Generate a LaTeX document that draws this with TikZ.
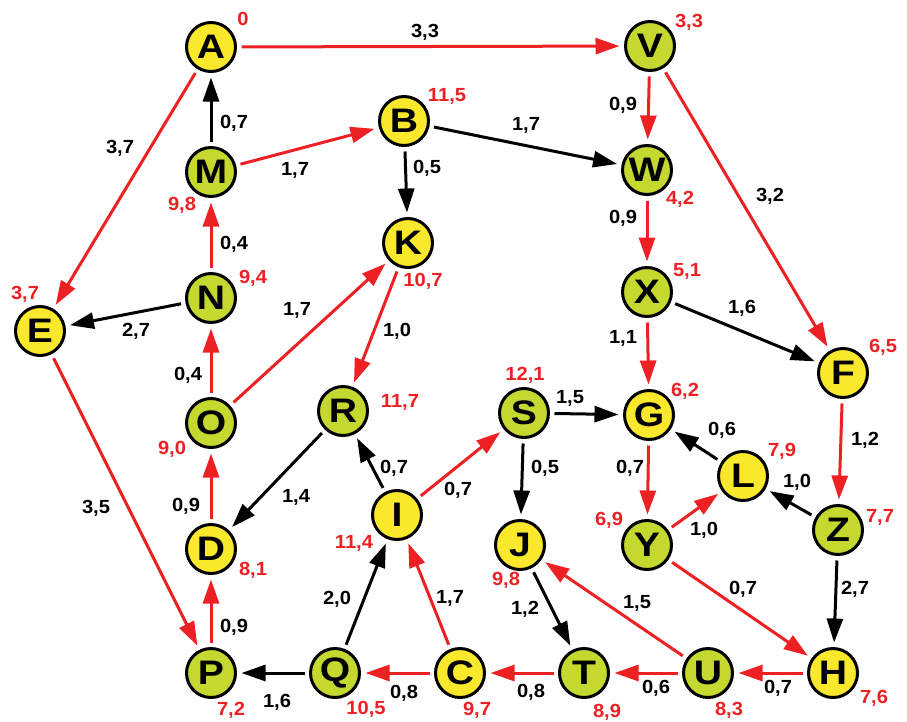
\documentclass[tikz,border=0pt]{standalone}
\usepackage{fontspec}
\setmainfont{Liberation Sans}
\newfontfamily\nodefont[FakeStretch=1.15]{Liberation Sans}
\newfontfamily\labfont[FakeStretch=1.06]{Liberation Sans}
\usetikzlibrary{arrows.meta}
\definecolor{ny}{RGB}{250,232,44}
\definecolor{ng}{RGB}{196,216,48}
\definecolor{er}{RGB}{237,32,36}
\tikzset{
  vtx/.style={circle, draw=black, line width=3pt, minimum size=49pt, inner sep=0pt, outer sep=6pt,
    font=\nodefont\fontsize{34}{34}\selectfont\bfseries},
  yn/.style={vtx, fill=ny},
  gn/.style={vtx, fill=ng},
  re/.style={draw=er, line width=3pt, -{Triangle[length=24pt,width=16pt]}},
  be/.style={draw=black, line width=3pt, -{Triangle[length=24pt,width=16pt]}},
  lab/.style={font=\labfont\fontsize{19}{19}\selectfont\bfseries, inner sep=0pt},
  dist/.style={lab, text=er}
}
\begin{document}
\begin{tikzpicture}[x=1pt,y=-1pt]
\useasboundingbox (0,0) rectangle (907,721);
% nodes
\node[yn] (A) at (211,47) {A};
\node[gn] (V) at (650,46) {V};
\node[yn] (B) at (404,121) {B};
\node[gn] (M) at (211,172) {M};
\node[gn] (W) at (647,170) {W};
\node[yn] (K) at (408,243) {K};
\node[gn] (X) at (647,292) {X};
\node[gn] (N) at (211,298) {N};
\node[yn] (E) at (40,331) {E};
\node[yn] (F) at (843,373) {F};
\node[gn] (O) at (211,423) {O};
\node[gn] (R) at (343,411) {R};
\node[gn] (S) at (524,413) {S};
\node[yn] (G) at (649,415) {G};
\node[yn] (L) at (743,476) {L};
\node[gn] (Z) at (838,530) {Z};
\node[gn] (Y) at (647,545) {Y};
\node[yn] (J) at (520,545) {J};
\node[yn] (I) at (397,515) {I};
\node[yn] (D) at (211,549) {D};
\node[gn] (P) at (211,673) {P};
\node[gn] (Q) at (335,673) {Q};
\node[yn] (C) at (460,673) {C};
\node[gn] (T) at (584,673) {T};
\node[gn] (U) at (708,673) {U};
\node[yn] (H) at (833,673) {H};
% edges
\draw[re] (A) -- (V);
\draw[re] (A) -- (E);
\draw[be] (M) -- (A);
\draw[re] (M) -- (B);
\draw[be] (B) -- (W);
\draw[be] (B) -- (K);
\draw[re] (V) -- (W);
\draw[re] (V) -- (F);
\draw[re] (W) -- (X);
\draw[be] (X) -- (F);
\draw[re] (X) -- (G);
\draw[re] (N) -- (M);
\draw[be] (N) -- (E);
\draw[re] (O) -- (N);
\draw[re] (O) -- (K);
\draw[re] (K) -- (R);
\draw[re] (E) -- (P);
\draw[re] (D) -- (O);
\draw[be] (R) -- (D);
\draw[be] (I) -- (R);
\draw[re] (I) -- (S);
\draw[be] (S) -- (G);
\draw[be] (S) -- (J);
\draw[re] (F) -- (Z);
\draw[be] (L) -- (G);
\draw[be] (Z) -- (L);
\draw[re] (G) -- (Y);
\draw[re] (Y) -- (L);
\draw[re] (Y) -- (H);
\draw[be] (Z) -- (H);
\draw[be] (J) -- (T);
\draw[re] (U) -- (J);
\draw[re] (H) -- (U);
\draw[re] (U) -- (T);
\draw[re] (T) -- (C);
\draw[re] (C) -- (Q);
\draw[be] (Q) -- (P);
\draw[re] (C) -- (I);
\draw[be] (Q) -- (I);
\draw[re] (P) -- (D);
% edge labels
\node[lab] (lAV) at (425,32) {3,3};
\node[lab] (lAE) at (120,148) {3,7};
\node[lab] (lMA) at (234,123) {0,7};
\node[lab] (lMB) at (295,170) {1,7};
\node[lab] (lBK) at (427,168) {0,5};
\node[lab] (lOK) at (297,310) {1,7};
\node[lab] (lKR) at (397,331) {1,0};
\node[lab] (lNE) at (136,331) {2,7};
\node[lab] (lNM) at (234,244) {0,4};
\node[lab] (lBW) at (526,125) {1,7};
\node[lab] (lVW) at (623,105) {0,9};
\node[lab] (lVF) at (770,196) {3,2};
\node[lab] (lWX) at (623,218) {0,9};
\node[lab] (lXF) at (742,308) {1,6};
\node[lab] (lXG) at (623,338) {1,1};
\node[lab] (lON) at (188,375) {0,4};
\node[lab] (lEP) at (96,508) {3,5};
\node[lab] (lDO) at (186,506) {0,9};
\node[lab] (lRD) at (296,497) {1,4};
\node[lab] (lIR) at (394,468) {0,7};
\node[lab] (lQI) at (337,599) {2,0};
\node[lab] (lPD) at (234,627) {0,9};
\node[lab] (lQP) at (277,702) {1,6};
\node[lab] (lCQ) at (404,693) {0,8};
\node[lab] (lCI) at (450,598) {1,7};
\node[lab] (lIS) at (458,490) {0,7};
\node[lab] (lSG) at (570,398) {1,5};
\node[lab] (lSJ) at (545,468) {0,5};
\node[lab] (lGY) at (630,468) {0,7};
\node[lab] (lLG) at (722,430) {0,6};
\node[lab] (lZL) at (797,482) {1,0};
\node[lab] (lYL) at (704,530) {1,0};
\node[lab] (lFZ) at (865,440) {1,2};
\node[lab] (lYH) at (743,589) {0,7};
\node[lab] (lZH) at (855,589) {2,7};
\node[lab] (lJT) at (525,609) {1,2};
\node[lab] (lUJ) at (637,603) {1,5};
\node[lab] (lTC) at (531,692) {0,8};
\node[lab] (lUT) at (656,688) {0,6};
\node[lab] (lHU) at (778,688) {0,7};
% distance labels
\node[dist] (dA) at (243,19) {0};
\node[dist] (dB) at (447,96) {11,5};
\node[dist] (dM) at (182,205) {9,8};
\node[dist] (dN) at (253,278) {9,4};
\node[dist] (dK) at (423,281) {10,7};
\node[dist] (dE) at (25,294) {3,7};
\node[dist] (dV) at (689,22) {3,3};
\node[dist] (dW) at (680,199) {4,2};
\node[dist] (dX) at (687,271) {5,1};
\node[dist] (dF) at (883,347) {6,5};
\node[dist] (dO) at (172,449) {9,0};
\node[dist] (dR) at (400,402) {11,7};
\node[dist] (dI) at (354,543) {11,4};
\node[dist] (dD) at (253,570) {8,1};
\node[dist] (dP) at (231,710) {7,2};
\node[dist] (dQ) at (366,709) {10,5};
\node[dist] (dS) at (525,375) {12,1};
\node[dist] (dG) at (685,391) {6,2};
\node[dist] (dL) at (782,451) {7,9};
\node[dist] (dZ) at (880,517) {7,7};
\node[dist] (dY) at (609,520) {6,9};
\node[dist] (dJ) at (506,580) {9,8};
\node[dist] (dC) at (477,710) {9,7};
\node[dist] (dT) at (607,712) {8,9};
\node[dist] (dU) at (729,710) {8,3};
\node[dist] (dH) at (874,698) {7,6};
\end{tikzpicture}
\end{document}
